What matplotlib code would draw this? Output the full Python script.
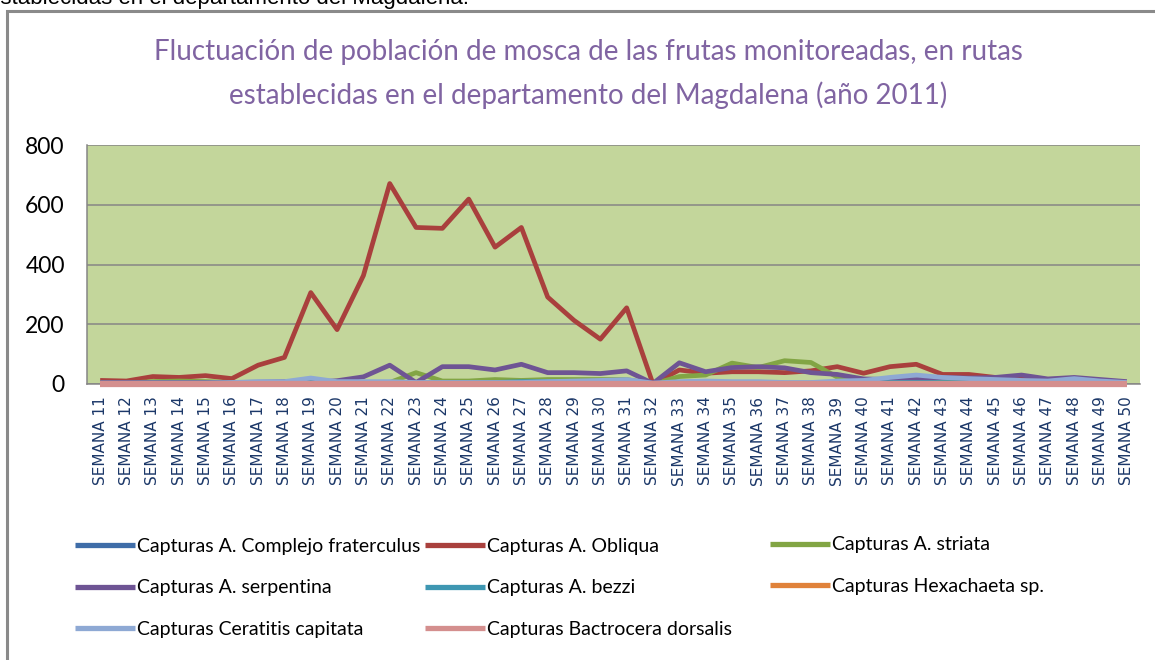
import matplotlib
matplotlib.use("Agg")
import matplotlib.pyplot as plt
from matplotlib.patches import Rectangle

W, H = 1155, 660

WEEKS = [f"SEMANA {i}" for i in range(11, 51)]

# capturas por semana
FRATERCULUS = [3, 3, 2, 2, 3, 3, 3, 3, 3, 3,
               3, 3, 2, 3, 3, 3, 3, 3, 3, 3,
               3, 0, 3, 3, 3, 3, 2, 2, 3, 3,
               3, 3, 3, 3, 3, 3, 2, 3, 2, 1]
OBLIQUA = [12, 10, 25, 22, 28, 18, 63, 89, 306, 182,
           363, 671, 524, 521, 619, 458, 524, 291, 213, 150,
           255, 0, 47, 36, 41, 41, 38, 44, 58, 36,
           58, 66, 32, 32, 22, 18, 10, 12, 8, 3]
STRIATA = [5, 3, 8, 10, 8, 5, 5, 5, 5, 5,
           5, 5, 38, 10, 10, 15, 12, 15, 15, 15,
           15, 0, 25, 30, 70, 55, 78, 72, 23, 15,
           10, 8, 8, 8, 5, 5, 5, 5, 3, 2]
SERPENTINA = [5, 5, 5, 5, 5, 5, 6, 8, 5, 11,
              24, 63, 5, 58, 58, 47, 66, 38, 38, 35,
              44, 2, 71, 41, 55, 58, 54, 38, 32, 17,
              15, 15, 22, 20, 22, 30, 17, 22, 15, 8]
BEZZI = [2, 2, 3, 3, 3, 3, 5, 5, 5, 5,
         5, 5, 3, 5, 5, 5, 8, 8, 8, 8,
         8, 0, 5, 5, 5, 5, 3, 3, 5, 5,
         5, 5, 5, 5, 5, 5, 3, 5, 3, 2]
HEXACHAETA = [0, 0, 0, 0, 0, 0, 1, 1, 0, 0,
              0, 0, 0, 1, 1, 0, 0, 0, 0, 0,
              0, 0, 0, 0, 1, 1, 0, 0, 0, 0,
              0, 0, 0, 0, 0, 0, 0, 0, 0, 0]
CERATITIS = [3, 3, 3, 3, 3, 5, 8, 8, 20, 8,
             8, 8, 5, 5, 5, 5, 5, 8, 10, 12,
             15, 3, 8, 10, 8, 8, 5, 5, 10, 12,
             22, 30, 22, 18, 15, 12, 10, 18, 10, 5]
DORSALIS = [0, 0, 0, 0, 0, 0, 0, 0, 0, 0,
            0, 0, 0, 0, 0, 0, 0, 0, 0, 0,
            0, 0, 0, 0, 0, 0, 0, 0, 0, 0,
            0, 0, 0, 0, 0, 0, 0, 0, 0, 0]

SERIES = [
    ("Capturas A. Complejo fraterculus", FRATERCULUS, "#3F6DA8"),
    ("Capturas A. Obliqua", OBLIQUA, "#A9403D"),
    ("Capturas A. striata", STRIATA, "#82A544"),
    ("Capturas A. serpentina", SERPENTINA, "#6E5494"),
    ("Capturas A. bezzi", BEZZI, "#3E97B2"),
    ("Capturas Hexachaeta sp.", HEXACHAETA, "#E0823A"),
    ("Capturas Ceratitis capitata", CERATITIS, "#8EA9D4"),
    ("Capturas Bactrocera dorsalis", DORSALIS, "#D48F8E"),
]

TITLE_1 = "Fluctuación de población de mosca de las frutas monitoreadas, en rutas"
TITLE_2 = "establecidas en el departamento del Magdalena (año 2011)"
TITLE_COLOR = "#8064A2"
PLOT_BG = "#C3D69B"
GRID = "#868686"
TICK_BLUE = "#1B3768"

fig = plt.figure(figsize=(W / 100, H / 100), dpi=100)
fig.patch.set_facecolor("white")

# texto cortado de la pagina, arriba
fig.text(-12 / W, 1 - 4 / H, "establecidas en el departamento del Magdalena.",
         family="Liberation Sans", fontsize=16, va="baseline", color="black")

# marco gris del grafico
fig.add_artist(Rectangle((6.5 / W, -0.1), 1.2, 1.1 - 11 / H,
                         transform=fig.transFigure, fill=False,
                         edgecolor="#8A8A8A", linewidth=2.2))

fig.text(588 / W, 1 - 52 / H, TITLE_1, ha="center", va="center",
         family="Lato", fontsize=20, color=TITLE_COLOR)
fig.text(588 / W, 1 - 95 / H, TITLE_2, ha="center", va="center",
         family="Lato", fontsize=20, color=TITLE_COLOR)

ax = fig.add_axes([87 / W, 1 - 384 / H, (1140 - 87) / W, (384 - 145) / H])
ax.set_facecolor(PLOT_BG)

x = list(range(len(WEEKS)))
handles = []
for i, (name, vals, col) in enumerate(SERIES):
    lw = 4.5 if name.endswith("dorsalis") else 3.4
    h, = ax.plot(x, vals, color=col, linewidth=lw, label=name,
                 solid_joinstyle="round", solid_capstyle="butt",
                 zorder=3 + i, clip_on=False)
    handles.append(h)

ax.set_xlim(-0.5, len(WEEKS) - 0.5)
ax.set_ylim(0, 800)
ax.set_yticks([0, 200, 400, 600, 800])
ax.yaxis.grid(True, color=GRID, linewidth=1.1)
ax.set_axisbelow(True)
for s in ["top", "right"]:
    ax.spines[s].set_visible(False)
for s in ["left", "bottom"]:
    ax.spines[s].set_color(GRID)
    ax.spines[s].set_linewidth(1.1)

ax.set_xticks(x)
ax.set_xticklabels(WEEKS, rotation=90, fontsize=11, color=TICK_BLUE,
                   family="DejaVu Sans")
ax.tick_params(axis="x", length=0, pad=9)
ax.tick_params(axis="y", length=0, pad=16, labelsize=16.5)
for t in ax.get_yticklabels():
    t.set_family("Lato")

# leyenda en tres columnas, cada una un legend aparte
cols = [(75, [0, 3, 6], 588), (425, [1, 4, 7], 588), (770, [2, 5], 565.5)]
for xpx, idx, ypx in cols:
    leg = fig.legend([handles[k] for k in idx], [SERIES[k][0] for k in idx],
                     loc="center left", bbox_to_anchor=(xpx / W, 1 - ypx / H),
                     frameon=False, borderpad=0, borderaxespad=0,
                     handlelength=3.1, handletextpad=0.1, labelspacing=1.25,
                     prop={"family": "Lato", "size": 14})
    for lh in leg.get_lines():
        lh.set_linewidth(3.8)

fig.savefig("out.png", dpi=100)
